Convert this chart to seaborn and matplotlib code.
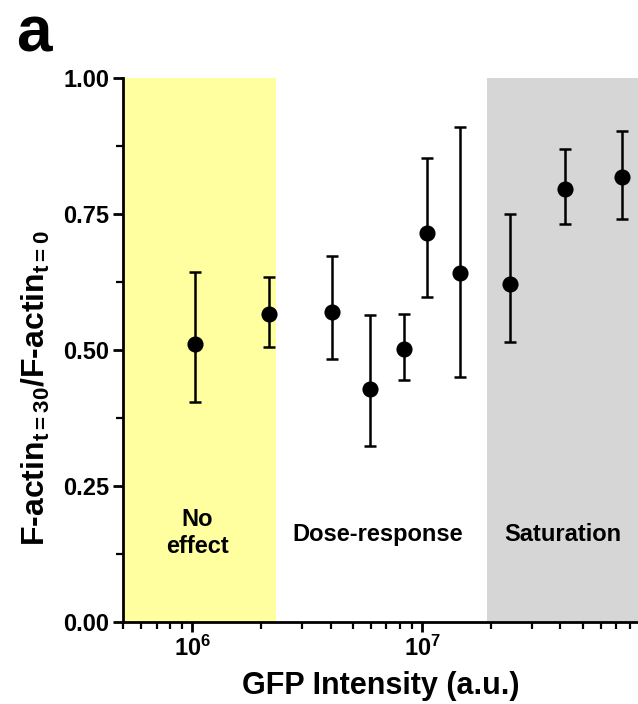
import numpy as np
import pandas as pd
import matplotlib
matplotlib.use("Agg")
import matplotlib.pyplot as plt
import seaborn as sns
from matplotlib.ticker import LogLocator, NullFormatter, FixedLocator

# ---- data ----
gfp = [1.03e6, 2.16e6, 4.06e6, 5.94e6, 8.35e6, 1.05e7, 1.46e7, 2.41e7, 4.19e7, 7.41e7]
ratio = [0.511, 0.566, 0.570, 0.428, 0.502, 0.715, 0.641, 0.621, 0.796, 0.818]
err_low = [0.404, 0.506, 0.483, 0.324, 0.445, 0.598, 0.451, 0.515, 0.731, 0.740]
err_high = [0.643, 0.634, 0.673, 0.564, 0.566, 0.853, 0.910, 0.750, 0.869, 0.903]
region_labels = ["No\neffect", "Dose-response", "Saturation"]
region_bounds = [5.0e5, 2.32e6, 1.92e7, 8.7e7]
y_ticks = [0.00, 0.25, 0.50, 0.75, 1.00]
y_tick_labels = ["0.00", "0.25", "0.50", "0.75", "1.00"]

df = pd.DataFrame({"gfp": gfp, "ratio": ratio, "lo": err_low, "hi": err_high})

sns.set_theme(style="ticks")
plt.rcParams["font.family"] = ["Liberation Sans", "DejaVu Sans"]
plt.rcParams["font.weight"] = "bold"
plt.rcParams["text.color"] = "black"
plt.rcParams["axes.labelcolor"] = "black"
plt.rcParams["xtick.color"] = "black"
plt.rcParams["ytick.color"] = "black"
plt.rcParams["mathtext.fontset"] = "custom"
plt.rcParams["mathtext.rm"] = "Liberation Sans:bold"
plt.rcParams["mathtext.bf"] = "Liberation Sans:bold"
plt.rcParams["mathtext.it"] = "Liberation Sans:bold"

fig = plt.figure(figsize=(6.38, 7.04), dpi=100)
ax = fig.add_axes([123 / 638, (704 - 622) / 704, 1 - 123 / 638, (622 - 78) / 704])

ax.set_xscale("log")
ax.set_xlim(region_bounds[0], region_bounds[-1])
ax.set_ylim(0, 1.0)

ax.axvspan(region_bounds[0], region_bounds[1], color="#FFFFA0", zorder=0, lw=0)
ax.axvspan(region_bounds[2], region_bounds[3], color="#D6D6D6", zorder=0, lw=0)

ax.errorbar(df["gfp"], df["ratio"],
            yerr=[df["ratio"] - df["lo"], df["hi"] - df["ratio"]],
            fmt="none", ecolor="black", elinewidth=1.8, capsize=4.6, capthick=1.8, zorder=2)
sns.scatterplot(data=df, x="gfp", y="ratio", ax=ax, color="black", s=135,
                edgecolor="black", linewidth=0, zorder=3)

# region labels
centers = [1.05e6, 6.4e6, 4.1e7]
ax.text(centers[0], 0.164, region_labels[0], ha="center", va="center",
        fontsize=17, fontweight="bold", linespacing=1.25, color="black")
ax.text(centers[1], 0.160, region_labels[1], ha="center", va="center",
        fontsize=17, fontweight="bold", color="black")
ax.text(centers[2], 0.160, region_labels[2], ha="center", va="center",
        fontsize=17, fontweight="bold", color="black")

# axes styling
for s in ["top", "right"]:
    ax.spines[s].set_visible(False)
for s in ["left", "bottom"]:
    ax.spines[s].set_linewidth(2)
    ax.spines[s].set_color("black")

ax.yaxis.set_major_locator(FixedLocator(y_ticks))
ax.set_yticklabels(y_tick_labels)
ax.yaxis.set_minor_locator(FixedLocator([0.125, 0.375, 0.625, 0.875]))
ax.xaxis.set_major_locator(LogLocator(base=10, numticks=10))
ax.xaxis.set_minor_locator(LogLocator(base=10, subs=np.arange(2, 10), numticks=20))
ax.xaxis.set_minor_formatter(NullFormatter())

ax.tick_params(axis="both", which="major", direction="out", length=7, width=2,
               labelsize=17, colors="black", pad=3)
ax.tick_params(axis="both", which="minor", direction="out", length=5, width=1.6, colors="black")
for lab in ax.get_xticklabels() + ax.get_yticklabels():
    lab.set_fontweight("bold")

ax.set_xlabel("GFP Intensity (a.u.)", fontsize=22, fontweight="bold", labelpad=7, color="black")
ax.set_ylabel(r"F-actin$_{\mathbf{t=30}}$/F-actin$_{\mathbf{t=0}}$",
              fontsize=23, fontweight="bold", color="black")
ax.yaxis.set_label_coords(-0.138, 0.43)
ax.grid(False)

fig.text(16 / 638, 1 - 4 / 704, "a", fontsize=46, fontweight="bold", ha="left", va="top",
         color="black")

fig.savefig("out.png", dpi=100)
